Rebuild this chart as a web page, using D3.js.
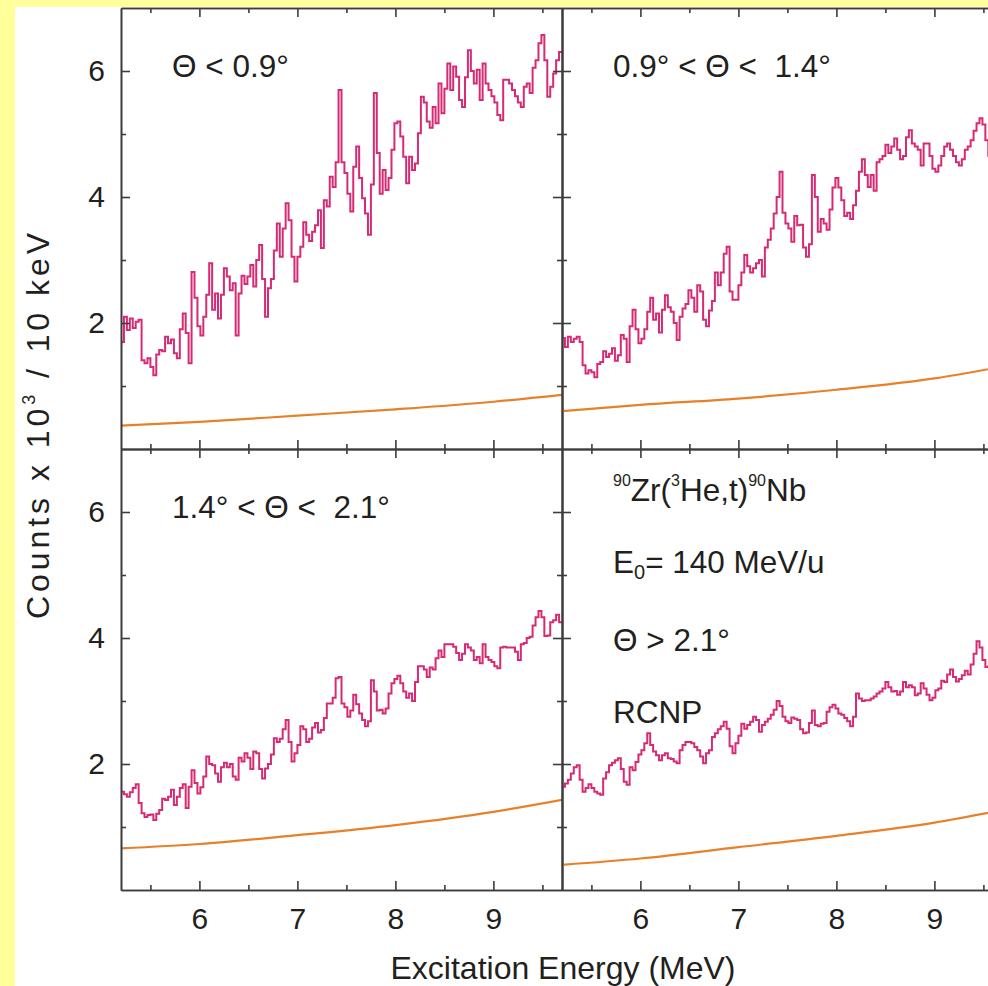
<!DOCTYPE html>
<html>
<head>
<meta charset="utf-8">
<script src="https://cdn.jsdelivr.net/npm/d3@7"></script>
<style>
  html, body { margin: 0; padding: 0; background: #ffff9c; }
  svg { display: block; }
  text { font-family: "Liberation Sans", Arial, Helvetica, sans-serif; fill: #231f20; }
</style>
</head>
<body>
<svg id="chart" width="988" height="986"></svg>
<script>
// Spectra: counts (x10^3) per 10 keV, rebinned to 30 keV steps starting at 5.2 MeV
const binStart = 5.2;
const binWidth = 0.03;

// Θ < 0.9°
const countsA = [
  1.70, 2.10, 1.89, 2.07, 1.92, 2.02, 2.05, 1.41, 1.36, 1.44,
  1.30, 1.17, 1.50, 1.57, 1.55, 1.78, 1.68, 1.74, 1.52, 1.44,
  1.90, 2.15, 1.84, 1.36, 2.81, 2.40, 1.95, 1.80, 2.10, 2.45,
  2.95, 2.21, 2.47, 2.07, 2.45, 2.87, 2.74, 2.52, 2.63, 1.80,
  2.47, 2.75, 2.62, 2.74, 2.92, 2.58, 3.00, 3.24, 2.70, 2.10,
  2.55, 2.70, 3.15, 3.58, 3.05, 3.50, 3.90, 3.63, 3.05, 2.66,
  3.05, 3.21, 3.60, 3.40, 3.30, 3.45, 3.55, 3.79, 3.19, 3.95,
  3.85, 4.32, 4.16, 4.55, 5.70, 4.55, 4.38, 4.05, 3.77, 4.48,
  4.80, 4.30, 3.98, 3.74, 3.40, 4.20, 5.65, 4.70, 4.05, 4.43,
  4.11, 4.30, 4.75, 5.17, 5.20, 4.96, 4.64, 4.22, 4.64, 4.43,
  4.53, 5.01, 5.59, 5.50, 5.20, 5.10, 5.43, 5.17, 5.80, 5.33,
  5.72, 6.12, 5.70, 6.07, 5.91, 5.54, 5.43, 5.90, 6.33, 6.00,
  5.80, 6.02, 5.54, 6.12, 5.80, 5.70, 5.60, 5.50, 5.30, 5.22,
  5.86, 5.86, 5.80, 5.70, 5.60, 5.50, 5.43, 5.75, 5.80, 5.65,
  6.05, 6.17, 6.44, 6.57, 6.17, 5.59, 5.75, 5.96, 6.17, 6.30
];

// 0.9° < Θ < 1.4°
const countsB = [
  1.76, 1.62, 1.78, 1.70, 1.75, 1.78, 1.70, 1.33, 1.20, 1.25,
  1.22, 1.14, 1.35, 1.38, 1.55, 1.46, 1.51, 1.60, 1.40, 1.49,
  1.81, 1.75, 1.38, 1.95, 2.21, 1.90, 1.68, 1.75, 1.90, 2.18,
  2.40, 2.05, 2.15, 1.85, 2.21, 2.44, 2.25, 2.18, 2.00, 1.73,
  2.10, 2.23, 2.30, 2.52, 2.40, 2.18, 2.60, 2.50, 2.05, 1.95,
  2.20, 2.35, 2.80, 2.60, 2.80, 3.10, 3.21, 2.50, 2.37, 2.37,
  2.60, 2.80, 3.08, 2.90, 2.80, 2.87, 2.95, 3.00, 2.74, 3.20,
  3.32, 3.50, 3.74, 4.00, 4.40, 3.75, 3.58, 3.50, 3.29, 3.70,
  3.55, 3.56, 3.20, 3.05, 3.25, 4.35, 4.00, 3.45, 3.65, 3.58,
  3.48, 3.80, 4.15, 4.30, 4.15, 3.95, 3.70, 3.75, 3.65, 3.87,
  4.10, 4.40, 4.60, 4.35, 4.16, 4.35, 4.10, 4.55, 4.60, 4.65,
  4.83, 4.70, 4.80, 4.93, 4.75, 4.60, 4.65, 4.95, 5.06, 4.85,
  4.80, 4.75, 4.50, 4.85, 4.85, 4.65, 4.45, 4.40, 4.50, 4.65,
  4.80, 4.85, 4.75, 4.65, 4.55, 4.50, 4.60, 4.75, 4.80, 4.90,
  5.05, 5.17, 5.25, 5.15, 4.90, 4.65
];

// 1.4° < Θ < 2.1°
const countsC = [
  1.56, 1.52, 1.48, 1.55, 1.62, 1.68, 1.38, 1.22, 1.16, 1.19,
  1.20, 1.11, 1.21, 1.27, 1.45, 1.43, 1.48, 1.59, 1.35, 1.48,
  1.62, 1.68, 1.30, 1.64, 1.90, 1.70, 1.53, 1.63, 1.80, 2.12,
  2.00, 1.98, 1.85, 1.72, 1.95, 2.02, 1.95, 2.00, 1.80, 1.75,
  2.10, 2.04, 2.17, 2.10, 1.92, 2.20, 2.17, 1.92, 1.77, 1.93,
  2.00, 2.15, 2.41, 2.35, 2.40, 2.55, 2.70, 2.35, 2.04, 2.17,
  2.30, 2.60, 2.55, 2.35, 2.40, 2.58, 2.65, 2.50, 2.54, 2.73,
  2.96, 2.96, 3.05, 3.36, 3.38, 2.96, 2.90, 2.75, 2.85, 3.10,
  2.95, 2.80, 2.70, 2.60, 2.68, 3.33, 3.15, 2.85, 2.86, 2.80,
  2.88, 3.12, 3.28, 3.35, 3.40, 3.28, 3.15, 3.05, 3.12, 3.00,
  3.30, 3.55, 3.55, 3.50, 3.38, 3.53, 3.50, 3.68, 3.80, 3.70,
  3.90, 3.90, 3.90, 3.86, 3.76, 3.65, 3.75, 3.90, 3.85, 3.80,
  3.65, 3.70, 3.60, 3.90, 3.70, 3.65, 3.62, 3.55, 3.52, 3.85,
  3.86, 3.85, 3.85, 3.85, 3.78, 3.65, 3.90, 3.92, 4.00, 4.02,
  4.20, 4.33, 4.43, 4.33, 4.03, 4.04, 4.25, 4.28, 4.37, 4.25
];

// Θ > 2.1°
const countsD = [
  1.64, 1.69, 1.75, 1.85, 1.95, 1.98, 1.75, 1.56, 1.62, 1.68,
  1.62, 1.56, 1.53, 1.51, 1.77, 1.87, 1.98, 2.02, 2.06, 2.09,
  1.92, 1.72, 1.67, 1.95, 1.90, 2.03, 2.15, 2.22, 2.33, 2.49,
  2.30, 2.20, 2.14, 2.06, 2.14, 2.17, 2.09, 2.08, 2.04, 2.01,
  2.22, 2.30, 2.35, 2.35, 2.33, 2.27, 2.22, 2.12, 2.01, 2.17,
  2.22, 2.43, 2.49, 2.55, 2.60, 2.67, 2.56, 2.28, 2.17, 2.33,
  2.45, 2.64, 2.56, 2.62, 2.67, 2.75, 2.70, 2.51, 2.62, 2.67,
  2.72, 2.78, 2.86, 3.00, 2.92, 2.75, 2.68, 2.65, 2.74, 2.72,
  2.70, 2.55, 2.49, 2.50, 2.65, 2.85, 2.62, 2.60, 2.64, 2.65,
  2.83, 2.90, 2.94, 2.88, 2.80, 2.78, 2.73, 2.68, 2.60, 2.75,
  3.12, 3.04, 3.00, 3.01, 3.01, 3.04, 3.07, 3.12, 3.15, 3.20,
  3.30, 3.22, 3.15, 3.16, 3.10, 3.15, 3.30, 3.22, 3.25, 3.22,
  3.09, 3.12, 3.28, 3.20, 3.10, 3.01, 3.05, 3.17, 3.20, 3.32,
  3.30, 3.42, 3.50, 3.38, 3.31, 3.35, 3.41, 3.48, 3.42, 3.58,
  3.75, 3.95, 3.85, 3.65, 3.54, 3.55
];

// Smooth background estimates, sampled at these energies
const bgEnergy = [5.2, 6.0, 7.0, 8.0, 9.0, 9.7];
const bgA = [0.37, 0.43, 0.53, 0.63, 0.75, 0.86];
const bgB = [0.60, 0.70, 0.80, 0.94, 1.12, 1.31];
const bgC = [0.66, 0.73, 0.87, 1.03, 1.24, 1.43];
const bgD = [0.40, 0.50, 0.68, 0.86, 1.07, 1.27];

const panelLabels = ["\u0398 < 0.9\u00b0", "0.9\u00b0 < \u0398 <  1.4\u00b0", "1.4\u00b0 < \u0398 <  2.1\u00b0", "\u0398 > 2.1\u00b0"];

const xDomain = [5.2, 9.7];
const yDomain = [0, 7];
const xMajor = [6, 7, 8, 9];
const xMinor = [5.5, 6.5, 7.5, 8.5, 9.5];
const yMajor = [2, 4, 6];
const yMinor = [1, 3, 5];

const C = { spectrum: "#d62a74", background: "#e8802a", axis: "#3c3c3c" };
const labelSize = 31.5;

const svg = d3.select("#chart");
svg.append("rect").attr("x", 15).attr("y", 7).attr("width", 973).attr("height", 979).attr("fill", "#ffffff");

const colX = [[121, 562], [562, 1003]];
const rowY = [[449, 8], [890, 449]];

const panels = [
  { col: 0, row: 0, counts: countsA, bg: bgA, label: panelLabels[0] },
  { col: 1, row: 0, counts: countsB, bg: bgB, label: panelLabels[1] },
  { col: 0, row: 1, counts: countsC, bg: bgC, label: panelLabels[2] },
  { col: 1, row: 1, counts: countsD, bg: bgD, label: null }
];

function styleAxis(g) {
  g.selectAll(".domain").attr("stroke", C.axis).attr("stroke-width", 1.6);
  g.selectAll(".tick line").attr("stroke", C.axis).attr("stroke-width", 1.6);
  g.selectAll(".tick text").attr("fill", "#231f20").attr("font-size", 30)
    .attr("font-family", "Liberation Sans, Arial, sans-serif");
}

panels.forEach((p, k) => {
  const x = d3.scaleLinear().domain(xDomain).range(colX[p.col]);
  const y = d3.scaleLinear().domain(yDomain).range(rowY[p.row]);
  const [x0, x1] = x.range();
  const [yb, yt] = y.range();
  const g = svg.append("g");

  const clipId = "clip" + k;
  g.append("clipPath").attr("id", clipId)
    .append("rect").attr("x", x0).attr("y", yt).attr("width", x1 - x0).attr("height", yb - yt);

  const plot = g.append("g").attr("clip-path", `url(#${clipId})`);

  // background curve
  const bgLine = d3.line().x(d => x(d[0])).y(d => y(d[1])).curve(d3.curveMonotoneX);
  plot.append("path")
    .datum(bgEnergy.map((e, i) => [e, p.bg[i]]))
    .attr("d", bgLine).attr("fill", "none")
    .attr("stroke", C.background).attr("stroke-width", 2.2);

  // histogram spectrum
  const pts = p.counts.map((v, i) => [binStart + i * binWidth, v]);
  pts.push([binStart + p.counts.length * binWidth, p.counts[p.counts.length - 1]]);
  const specLine = d3.line().x(d => x(d[0])).y(d => y(d[1])).curve(d3.curveStepAfter);
  plot.append("path").datum(pts).attr("d", specLine).attr("fill", "none")
    .attr("stroke", C.spectrum).attr("stroke-width", 2).attr("stroke-linejoin", "miter");

  // axes on all four sides, ticks pointing inward
  const showX = p.row === 1, showY = p.col === 0;
  const addX = (axisFn, ypos, labels) => {
    const major = axisFn(x).tickValues(xMajor).tickSizeInner(-9).tickSizeOuter(0)
      .tickPadding(18).tickFormat(labels ? d3.format("d") : "");
    const minor = axisFn(x).tickValues(xMinor).tickSizeInner(-5).tickSizeOuter(0).tickFormat("");
    g.append("g").attr("transform", `translate(0,${ypos})`).call(major).call(styleAxis);
    g.append("g").attr("transform", `translate(0,${ypos})`).call(minor).call(styleAxis);
  };
  const addY = (axisFn, xpos, labels) => {
    const major = axisFn(y).tickValues(yMajor).tickSizeInner(-9).tickSizeOuter(0)
      .tickPadding(16).tickFormat(labels ? d3.format("d") : "");
    const minor = axisFn(y).tickValues(yMinor).tickSizeInner(-5).tickSizeOuter(0).tickFormat("");
    g.append("g").attr("transform", `translate(${xpos},0)`).call(major).call(styleAxis);
    g.append("g").attr("transform", `translate(${xpos},0)`).call(minor).call(styleAxis);
  };
  addX(d3.axisBottom, yb, showX);
  addX(d3.axisTop, yt, false);
  addY(d3.axisLeft, x0, showY);
  addY(d3.axisRight, x1, false);

  if (p.label) {
    g.append("text").attr("x", x0 + 51).attr("y", yt + 69)
      .attr("font-size", labelSize).style("white-space", "pre").text(p.label);
  }

  if (p.col === 1 && p.row === 1) {
    const tx = x0 + 51;
    const l1 = g.append("text").attr("x", tx).attr("y", yt + 52).attr("font-size", labelSize);
    l1.append("tspan").attr("font-size", 16).attr("dy", -15).text("90");
    l1.append("tspan").attr("dy", 15).text("Zr(");
    l1.append("tspan").attr("font-size", 16).attr("dy", -15).text("3");
    l1.append("tspan").attr("dy", 15).text("He,t)");
    l1.append("tspan").attr("font-size", 16).attr("dy", -15).text("90");
    l1.append("tspan").attr("dy", 15).text("Nb");

    const l2 = g.append("text").attr("x", tx).attr("y", yt + 124).attr("font-size", labelSize).style("white-space", "pre");
    l2.append("tspan").text("E");
    l2.append("tspan").attr("font-size", 20).attr("dy", 6).text("0");
    l2.append("tspan").attr("dy", -6).text("= 140 MeV/u");

    g.append("text").attr("x", tx).attr("y", yt + 202).attr("font-size", labelSize).text(panelLabels[3]);
    g.append("text").attr("x", tx).attr("y", yt + 274).attr("font-size", labelSize).text("RCNP");
  }
});

// axis titles
svg.append("text").attr("x", 563).attr("y", 979).attr("text-anchor", "middle")
  .attr("font-size", 32).text("Excitation Energy (MeV)");

const yTitle = svg.append("text").attr("transform", "translate(49,426) rotate(-90)")
  .attr("text-anchor", "middle").attr("font-size", 32).style("white-space", "pre")
  .attr("textLength", 386).attr("lengthAdjust", "spacing");
yTitle.append("tspan").text("Counts x 10");
yTitle.append("tspan").attr("font-size", 18).attr("dy", -14).text("3");
yTitle.append("tspan").attr("dy", 14).text(" / 10 keV");
</script>
</body>
</html>
